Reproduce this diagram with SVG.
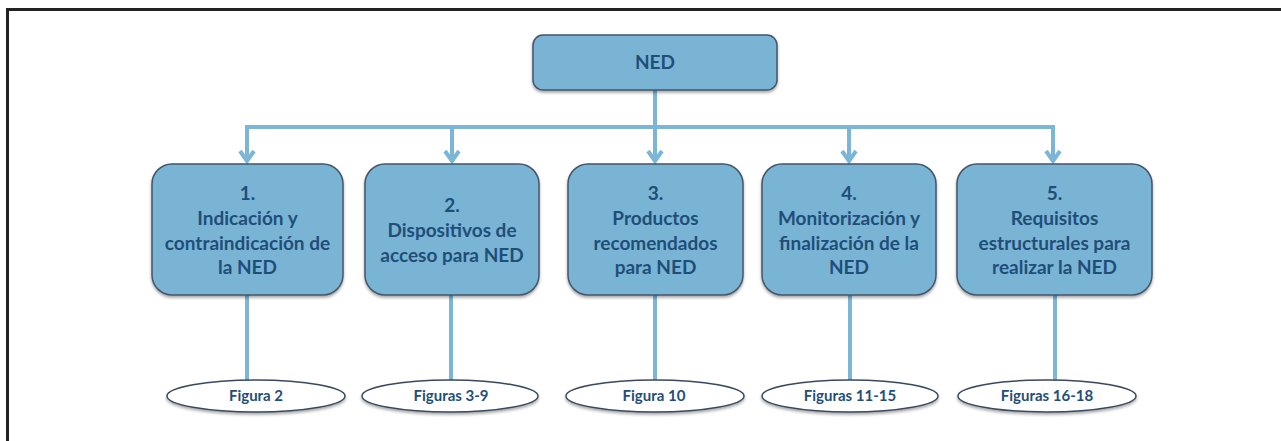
<svg xmlns="http://www.w3.org/2000/svg" width="1281" height="441" viewBox="0 0 1281 441">
<style>
.box{fill:#7ab4d4;stroke:#44566a;stroke-width:1.5;filter:url(#sh)}
.ell{fill:#ffffff;stroke:#3a4a5e;stroke-width:1.5;filter:url(#sh)}
.bt{font-family:Lato,"Liberation Sans",sans-serif;font-weight:bold;font-size:19px;fill:#1f4e79;text-anchor:middle}
.et{font-family:Lato,"Liberation Sans",sans-serif;font-weight:bold;font-size:15px;fill:#1f4e79;text-anchor:middle}
.ln{fill:none;stroke:#7bb6d6;stroke-width:4}
.ah{fill:none;stroke:#7bb6d6;stroke-width:4;stroke-linejoin:miter}
</style>
<defs>
<filter id="sh" x="-10%" y="-20%" width="120%" height="150%">
<feDropShadow dx="0" dy="2" stdDeviation="1.5" flood-color="#000" flood-opacity="0.35"/>
</filter>
</defs>
<path d="M7.5,441 V9.5 H1281" fill="none" stroke="#222" stroke-width="3"/>
<g id="connectors">
<path class="ln" d="M655,90 V127"/>
<path class="ln" d="M247,162 V127 H1053 V162"/>
<path class="ln" d="M452,127 V162"/>
<path class="ln" d="M655,127 V162"/>
<path class="ln" d="M849,127 V162"/>
<path class="ah" d="M240,151 L247,161 L254,151"/>
<path class="ah" d="M445,151 L452,161 L459,151"/>
<path class="ah" d="M648,151 L655,161 L662,151"/>
<path class="ah" d="M842,151 L849,161 L856,151"/>
<path class="ah" d="M1046,151 L1053,161 L1060,151"/>
<path class="ln" d="M247,295 V381"/>
<path class="ln" d="M451,295 V381"/>
<path class="ln" d="M655,295 V381"/>
<path class="ln" d="M850,295 V381"/>
<path class="ln" d="M1055,295 V381"/>
</g>
<g id="ned">
<rect class="box" x="533" y="35" width="244" height="55" rx="10"/>
<text class="bt" x="655" y="69">NED</text>
</g>
<g id="n1">
<rect class="box" x="152" y="164" width="191" height="131" rx="20"/>
<text class="bt" x="247.5" y="200">1.</text>
<text class="bt" x="247.5" y="225">Indicación y</text>
<text class="bt" x="247.5" y="250">contraindicación de</text>
<text class="bt" x="247.5" y="274">la NED</text>
</g>
<g id="n2">
<rect class="box" x="365" y="164" width="174" height="131" rx="20"/>
<text class="bt" x="452" y="212">2.</text>
<text class="bt" x="452" y="237">Dispositivos de</text>
<text class="bt" x="452" y="262">acceso para NED</text>
</g>
<g id="n3">
<rect class="box" x="568" y="164" width="175" height="131" rx="20"/>
<text class="bt" x="655.5" y="200">3.</text>
<text class="bt" x="655.5" y="225">Productos</text>
<text class="bt" x="655.5" y="250">recomendados</text>
<text class="bt" x="655.5" y="274">para NED</text>
</g>
<g id="n4">
<rect class="box" x="762" y="164" width="174" height="131" rx="20"/>
<text class="bt" x="849" y="200">4.</text>
<text class="bt" x="849" y="225">Monitorización y</text>
<text class="bt" x="849" y="250">finalización de la</text>
<text class="bt" x="849" y="274">NED</text>
</g>
<g id="n5">
<rect class="box" x="957" y="164" width="195" height="131" rx="20"/>
<text class="bt" x="1054.5" y="200">5.</text>
<text class="bt" x="1054.5" y="225">Requisitos</text>
<text class="bt" x="1054.5" y="250">estructurales para</text>
<text class="bt" x="1054.5" y="274">realizar la NED</text>
</g>
<g id="f1">
<ellipse class="ell" cx="256" cy="396" rx="89" ry="16"/>
<text class="et" x="256" y="401">Figura 2</text>
</g>
<g id="f2">
<ellipse class="ell" cx="450" cy="396" rx="88" ry="16"/>
<text class="et" x="451" y="401">Figuras 3-9</text>
</g>
<g id="f3">
<ellipse class="ell" cx="655" cy="396" rx="89" ry="16"/>
<text class="et" x="654" y="401">Figura 10</text>
</g>
<g id="f4">
<ellipse class="ell" cx="850" cy="396" rx="88" ry="16"/>
<text class="et" x="850" y="401">Figuras 11-15</text>
</g>
<g id="f5">
<ellipse class="ell" cx="1047" cy="396" rx="89" ry="16"/>
<text class="et" x="1047" y="401">Figuras 16-18</text>
</g>
</svg>
